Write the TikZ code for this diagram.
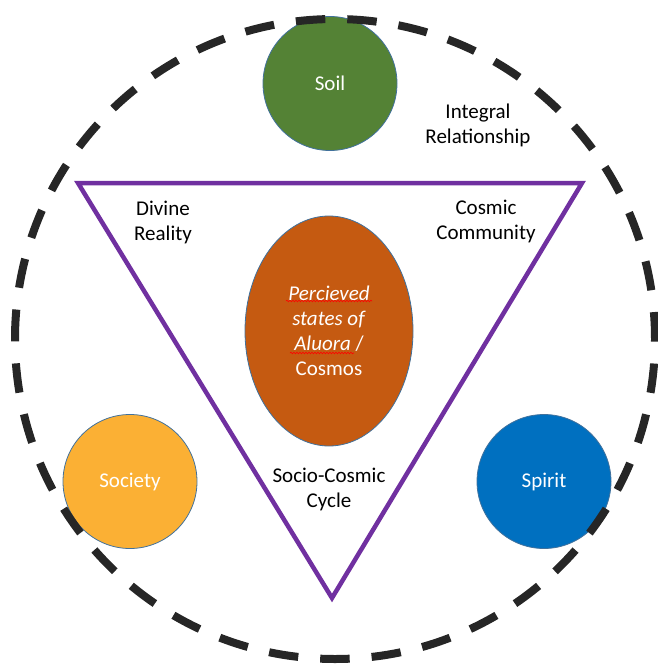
\documentclass[tikz,border=0pt]{standalone}
\usepackage{fontspec}
\setmainfont{Carlito}
\usetikzlibrary{shapes.geometric,decorations.pathmorphing}
\definecolor{soilgreen}{RGB}{84,130,53}
\definecolor{societygold}{RGB}{251,176,52}
\definecolor{spiritblue}{RGB}{0,112,192}
\definecolor{corerust}{RGB}{197,90,17}
\definecolor{cyclepurple}{RGB}{112,48,160}
\definecolor{ringgray}{RGB}{38,38,38}
\definecolor{rimblue}{RGB}{65,113,156}
\tikzset{
  lbl/.style={font=\fontsize{21}{25}\selectfont, align=center},
  disc/.style={circle, draw=rimblue, line width=.8pt, minimum size=134pt, inner sep=0pt, text=white, lbl},
  cyc/.style={draw=cyclepurple, line width=4.5pt, line join=miter},
  ring/.style={draw=ringgray, line width=8pt, dash pattern=on 29.5pt off 22pt},
  spell/.style={red, line width=.6pt, decorate, decoration={snake, amplitude=.8pt, segment length=3pt}}
}
\begin{document}
\begin{tikzpicture}[x=1pt,y=-1pt]
\useasboundingbox (0,0) rectangle (658,664);
\coordinate (tl) at (78,183);
\coordinate (tr) at (582,183);
\coordinate (tb) at (332,598);
\draw[cyc] (tl)--(tr)--(tb)--cycle;
\node[ellipse, draw=rimblue, line width=.8pt, fill=corerust, minimum width=168pt, minimum height=230pt, inner sep=0pt, text=white, lbl] (core) at (329,331) {\textit{Percieved}\\ \textit{states of}\\ \textit{Aluora} /\\ Cosmos};
\draw[spell] ([shift={(-43,-30)}]core.center) -- ([shift={(43,-30)}]core.center);
\draw[spell] ([shift={(-39,22)}]core.center) -- ([shift={(25,22)}]core.center);
\node[disc, fill=soilgreen] (soil) at (330,83.5) {Soil};
\node[disc, fill=societygold] (society) at (130,481.5) {Society};
\node[disc, fill=spiritblue] (spirit) at (544,481.5) {Spirit};
\node[lbl] (integral) at (478,125) {Integral\\ Relationship};
\node[lbl] (divine) at (163,222) {Divine\\ Reality};
\node[lbl] (community) at (486,221) {Cosmic\\ Community};
\node[lbl] (cycle) at (329,489) {Socio-Cosmic\\ Cycle};
\coordinate (o) at (335,339);
\draw[ring] (o) ++(-320,0) arc[start angle=180, end angle=-180, radius=320pt];
\end{tikzpicture}
\end{document}
